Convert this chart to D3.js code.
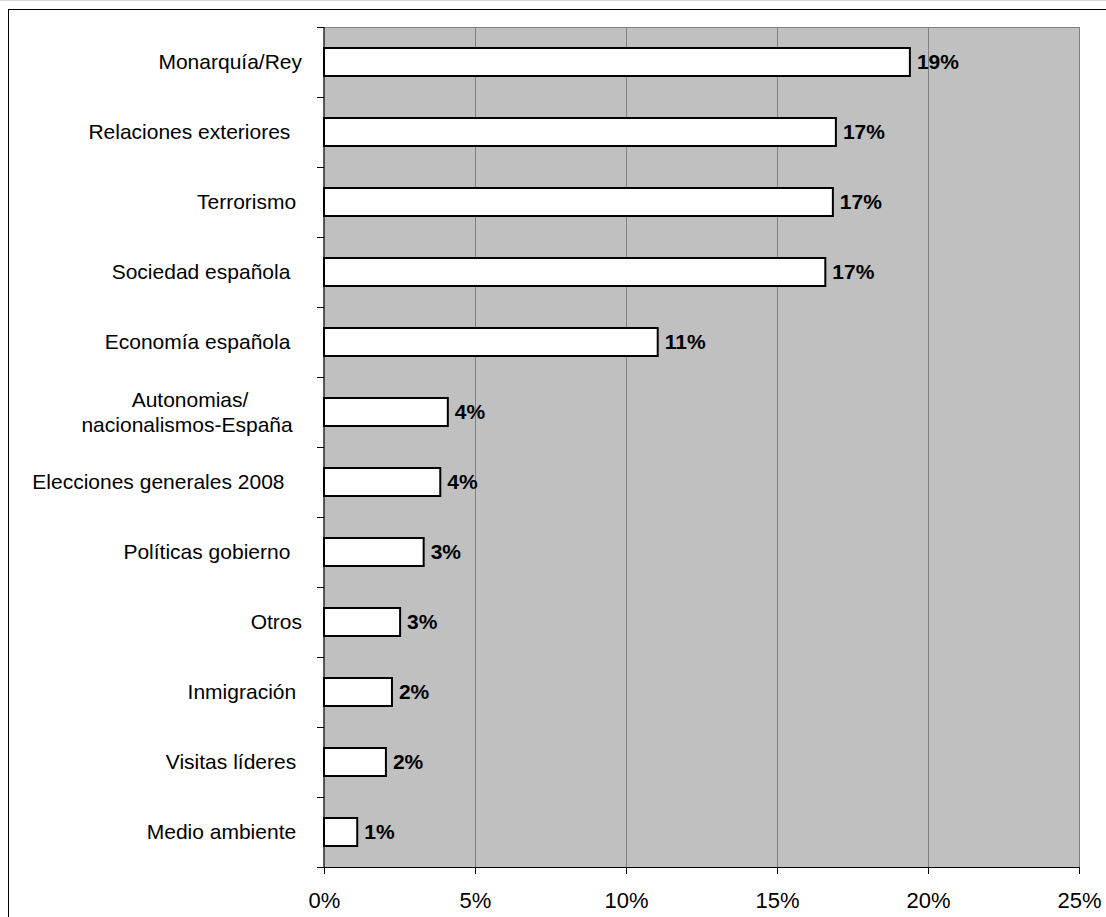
<!DOCTYPE html>
<html>
<head>
<meta charset="utf-8">
<script src="https://cdn.jsdelivr.net/npm/d3@7"></script>
<style>
  body { margin: 0; background: #fff; }
  svg text { font-family: "Liberation Sans", Arial, sans-serif; white-space: pre; }
</style>
</head>
<body>
<div id="chart"></div>
<script>
// categories (top to bottom) and shares in percent
var categories = ["Monarquía/Rey", "Relaciones exteriores  ", "Terrorismo ", "Sociedad española  ",
  "Economía española  ", "Autonomias/|nacionalismos-España ", "Elecciones generales 2008   ",
  "Políticas gobierno  ", "Otros", "Inmigración ", "Visitas líderes ", "Medio ambiente "];
var values = [19.4, 16.95, 16.85, 16.6, 11.05, 4.1, 3.85, 3.3, 2.52, 2.25, 2.05, 1.1];
var xTicks = [0, 5, 10, 15, 20, 25];

var width = 1106, height = 917;
var plotLeft = 324, plotRight = 1079, plotTop = 27, plotBottom = 867;
var fs = "21px";

var svg = d3.select("#chart").append("svg")
  .attr("width", width).attr("height", height);

// outer chart frame (runs off the right and bottom edges)
svg.append("line").attr("x1", 0).attr("x2", width).attr("y1", 0.5).attr("y2", 0.5)
  .attr("stroke", "#d8d8d8");
svg.append("rect").attr("x", 8.5).attr("y", 9.5).attr("width", 1200).attr("height", 1000)
  .attr("fill", "none").attr("stroke", "#000").attr("stroke-width", 1);

var x = d3.scaleLinear().domain([0, 25]).range([plotLeft, plotRight]);
var y = d3.scaleBand().domain(categories).range([plotTop, plotBottom])
  .paddingInner(0.6).paddingOuter(0.3);

// plot background
svg.append("rect").attr("x", plotLeft).attr("y", plotTop + 0.5)
  .attr("width", plotRight - plotLeft + 0.5).attr("height", plotBottom - plotTop)
  .attr("fill", "#c0c0c0").attr("stroke", "#808080");

// vertical grid
svg.selectAll(".grid").data(xTicks.slice(1)).enter().append("line")
  .attr("x1", d => Math.round(x(d)) + 0.5).attr("x2", d => Math.round(x(d)) + 0.5)
  .attr("y1", plotTop).attr("y2", plotBottom)
  .attr("stroke", "#808080");

// bars
svg.selectAll(".bar").data(values).enter().append("rect")
  .attr("x", x(0))
  .attr("y", (d, i) => y(categories[i]))
  .attr("width", d => x(d) - x(0))
  .attr("height", y.bandwidth())
  .attr("fill", "#fff").attr("stroke", "#000").attr("stroke-width", 2);

// value labels
var fmt = d3.format(".0f");
svg.selectAll(".val").data(values).enter().append("text")
  .attr("x", d => x(d) + 7)
  .attr("y", (d, i) => y(categories[i]) + y.bandwidth() / 2)
  .attr("dy", "0.35em")
  .style("font-size", fs).style("font-weight", "bold")
  .text(d => fmt(d) + "%");

// x axis
var xAxis = svg.append("g").attr("transform", "translate(0," + plotBottom + ")")
  .call(d3.axisBottom(x).tickValues(xTicks).tickFormat(d => d + "%").tickSize(7).tickPadding(18));
xAxis.select(".domain").attr("stroke", "#000");
xAxis.selectAll("text").style("font-size", "22px").style("font-family", "Liberation Sans, Arial, sans-serif")
  .attr("fill", "#000");

// y axis line and ticks at category boundaries
var step = y.step();
var bounds = d3.range(categories.length + 1).map(i => plotTop + i * step);
svg.append("line").attr("x1", plotLeft).attr("x2", plotLeft).attr("y1", plotTop).attr("y2", plotBottom)
  .attr("stroke", "#000");
svg.selectAll(".ytick").data(bounds).enter().append("line")
  .attr("x1", plotLeft - 7).attr("x2", plotLeft)
  .attr("y1", d => Math.round(d) + 0.5).attr("y2", d => Math.round(d) + 0.5)
  .attr("stroke", "#000");

// category labels
var lab = svg.selectAll(".cat").data(categories).enter().append("text")
  .attr("y", d => y(d) + y.bandwidth() / 2)
  .style("font-size", fs).attr("fill", "#000");
lab.each(function (d) {
  var t = d3.select(this);
  var lines = d.split("|");
  if (lines.length === 1) {
    t.attr("x", 302).attr("text-anchor", "end").attr("dy", "0.35em").text(d);
  } else {
    t.attr("text-anchor", "middle").attr("x", 190);
    lines.forEach(function (l, k) {
      t.append("tspan").attr("x", 190)
        .attr("dy", k === 0 ? (-0.6 + 0.35) + "em" : "1.2em").text(l);
    });
  }
});
</script>
</body>
</html>
